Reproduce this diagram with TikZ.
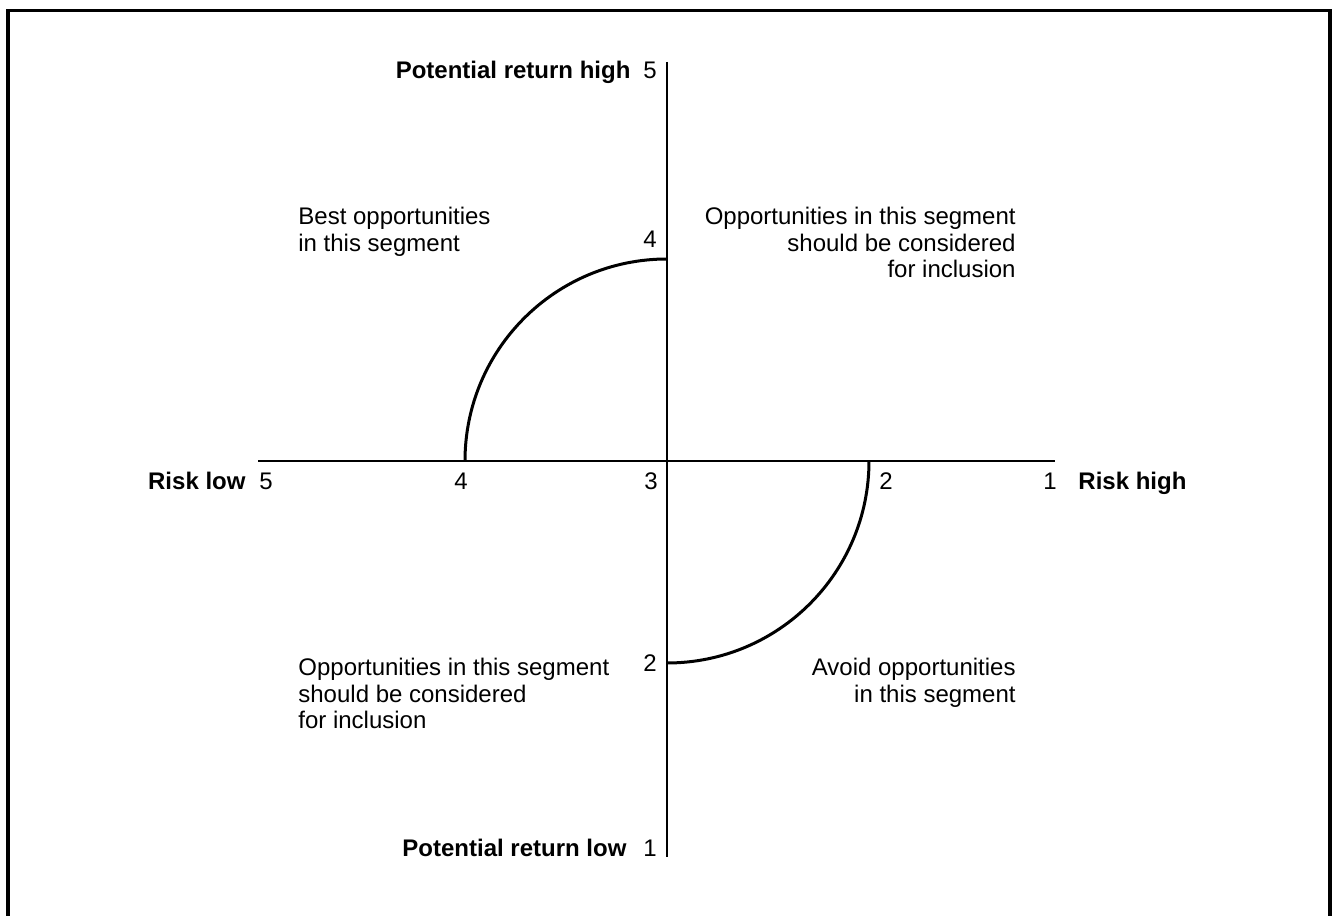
\documentclass[tikz,border=0pt]{standalone}
\usepackage{fontspec}
\setmainfont{Liberation Sans}
\usetikzlibrary{positioning}
\definecolor{ink}{HTML}{000000}
\tikzset{
  frame/.style={draw=ink, line width=1.9pt},
  axis/.style={draw=ink, line width=0.8pt},
  band/.style={draw=ink, line width=1.5pt},
  tick/.style={inner sep=0pt, text=ink},
  axlabel/.style={inner sep=0pt, text=ink, font=\fontsize{12}{13.25}\selectfont\bfseries},
  note/.style={inner sep=0pt, text=ink},
}

\begin{document}
\begin{tikzpicture}[x=0.5pt, y=0.5pt, every node/.style={font=\fontsize{12}{13.25}\selectfont}]
  \useasboundingbox (0,0) rectangle (1335,916);
  \draw[frame] (8,0) -- (8,905.5) -- (1330,905.5) -- (1330,0);
  % axes
  \coordinate (o) at (667,455);
  \coordinate (yhi) at (667,854);
  \coordinate (ylo) at (667,59);
  \coordinate (xlo) at (258,455);
  \coordinate (xhi) at (1055,455);
  \draw[axis] (yhi) -- (ylo);
  \draw[axis] (xlo) -- (xhi);
  % boundary arcs
  \coordinate (r4) at (667,657);
  \coordinate (r2) at (869,455);
  \draw[band] (r4) arc[start angle=90, end angle=180, radius=202];
  \draw[band] (r2) arc[start angle=0, end angle=-90, radius=202];
  % scale values
  \foreach \v/\x in {5/266,4/461,3/651,2/886,1/1050}{\node[tick,anchor=base] (h\v) at (\x,426) {\v};}
  \foreach \v/\y in {5/837,4/668,2/244,1/59}{\node[tick,anchor=base east] (v\v) at (657,\y) {\v};}
  \node[axlabel,base left=6.5pt of h5] (rlow) {Risk low};
  \node[axlabel,base right=10.5pt of h1] (rhigh) {Risk high};
  \node[axlabel,base left=6pt of v5] (phigh) {Potential return high};
  \node[axlabel,base left=8pt of v1] (plow) {Potential return low};
  % segment notes
  \node[note,align=left,anchor=north west] (best) at (298,709) {Best opportunities\\in this segment};
  \node[note,align=right,anchor=north east] (incl) at (1016,709) {Opportunities in this segment\\should be considered\\for inclusion};
  \node[note,align=left,anchor=north west] (incl2) at (298,258) {Opportunities in this segment\\should be considered\\for inclusion};
  \node[note,align=right,anchor=north east] (avoid) at (1016,258) {Avoid opportunities\\in this segment};
\end{tikzpicture}
\end{document}
